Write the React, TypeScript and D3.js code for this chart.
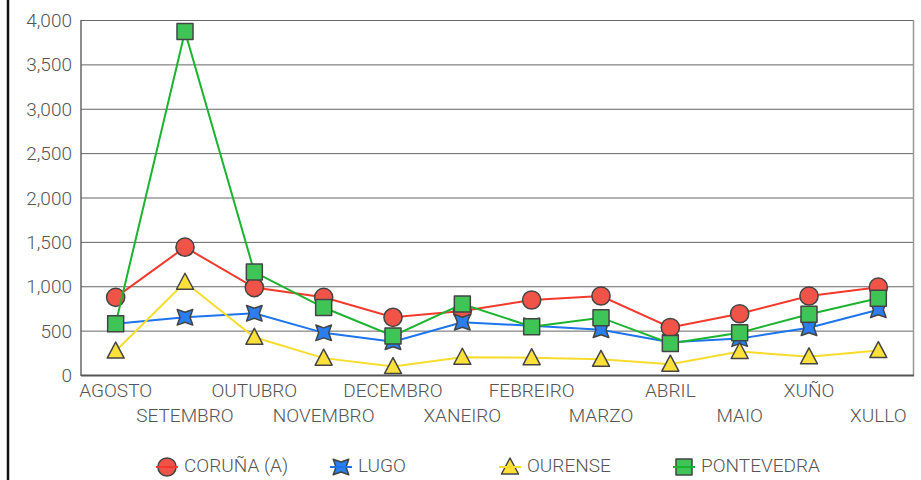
import { useEffect, useRef } from 'react';
import * as d3 from 'd3';

const MONTHS = ['AGOSTO', 'SETEMBRO', 'OUTUBRO', 'NOVEMBRO', 'DECEMBRO', 'XANEIRO', 'FEBREIRO', 'MARZO', 'ABRIL', 'MAIO', 'XUÑO', 'XULLO'];
const CORUNA = [875, 1440, 985, 875, 650, 720, 845, 890, 535, 690, 890, 990];
const LUGO = [578, 650, 695, 475, 375, 595, 555, 510, 368, 410, 533, 735];
const OURENSE = [270, 1045, 425, 190, 95, 200, 195, 177, 122, 265, 205, 275];
const PONTEVEDRA = [578, 3870, 1160, 760, 440, 800, 545, 646, 355, 477, 684, 865];
const Y_TICKS = [0, 500, 1000, 1500, 2000, 2500, 3000, 3500, 4000];

const SERIES = [
  { name: 'CORUÑA (A)', values: CORUNA, line: '#f2392c', fill: '#f05448', shape: 'circle' },
  { name: 'LUGO', values: LUGO, line: '#1c74ee', fill: '#2a7ef0', shape: 'star' },
  { name: 'OURENSE', values: OURENSE, line: '#f7dc2c', fill: '#fde03a', shape: 'triangle' },
  { name: 'PONTEVEDRA', values: PONTEVEDRA, line: '#1cb32f', fill: '#3fc456', shape: 'square' }
];
const LEGEND_X = [167, 341, 510, 684];

// marker outline centred on 0,0
function markerPath(shape: string) {
  if (shape === 'circle') return d3.symbol(d3.symbolCircle, 260)();
  if (shape === 'square') return 'M-8,-8H8V8H-8Z';
  if (shape === 'triangle') return 'M0,-9L8.5,7H-8.5Z';
  // four point star, points on the diagonals
  const p = d3.path();
  const r = 11, q = 5;
  for (let i = 0; i < 8; i++) {
    const a = Math.PI / 4 + (i * Math.PI) / 4;
    const rr = i % 2 === 0 ? r : q;
    const x = Math.cos(a) * rr, y = Math.sin(a) * rr;
    if (i === 0) p.moveTo(x, y); else p.lineTo(x, y);
  }
  p.closePath();
  return p.toString();
}

export default function App() {
  const ref = useRef<SVGSVGElement>(null);

  useEffect(() => {
    if (!ref.current) return;
    const svg = d3.select(ref.current);
    svg.selectAll('*').remove();

    const left = 81, right = 913, top = 20, bottom = 375;
    const font = 'Roboto, "Liberation Sans", sans-serif';

    const x = d3.scalePoint<string>().domain(MONTHS).range([left, right]).padding(0.5);
    const y = d3.scaleLinear().domain([0, 4000]).range([bottom, top]);

    svg.append('rect').attr('width', 921).attr('height', 480).attr('fill', '#fff');

    // outer left border
    svg.append('line')
      .attr('x1', 8).attr('x2', 8).attr('y1', 0).attr('y2', 480)
      .attr('stroke', '#111').attr('stroke-width', 2.5);

    // grid
    svg.selectAll('.grid')
      .data(Y_TICKS.slice(1))
      .enter()
      .append('line')
      .attr('x1', left).attr('x2', right)
      .attr('y1', d => y(d) + 0.5).attr('y2', d => y(d) + 0.5)
      .attr('stroke', '#666').attr('stroke-width', 1);

    svg.append('line')
      .attr('x1', right + 0.5).attr('x2', right + 0.5).attr('y1', top).attr('y2', bottom)
      .attr('stroke', '#999').attr('stroke-width', 1.5);
    svg.append('line')
      .attr('x1', left).attr('x2', left).attr('y1', top).attr('y2', bottom + 1)
      .attr('stroke', '#666').attr('stroke-width', 1.5);
    svg.append('line')
      .attr('x1', left).attr('x2', right + 1).attr('y1', bottom + 0.5).attr('y2', bottom + 0.5)
      .attr('stroke', '#555').attr('stroke-width', 2);

    // y labels
    svg.selectAll('.ylab')
      .data(Y_TICKS)
      .enter()
      .append('text')
      .attr('x', 72)
      .attr('y', d => y(d) + 7)
      .attr('text-anchor', 'end')
      .attr('fill', '#555')
      .style('font-family', font)
      .style('font-weight', 300)
      .style('font-size', '19px')
      .text(d => d3.format(',')(d));

    // x labels, staggered
    svg.selectAll('.xlab')
      .data(MONTHS)
      .enter()
      .append('text')
      .attr('x', d => x(d)!)
      .attr('y', (d, i) => (i % 2 === 0 ? 397 : 422))
      .attr('text-anchor', 'middle')
      .attr('fill', '#555')
      .style('font-family', font)
      .style('font-weight', 300)
      .style('font-size', '19px')
      .text(d => d);

    const line = d3.line<number>()
      .x((d, i) => x(MONTHS[i])!)
      .y(d => y(d));

    SERIES.forEach((s, si) => {
      const g = svg.append('g');
      g.append('path')
        .datum(s.values)
        .attr('fill', 'none')
        .attr('stroke', s.line)
        .attr('stroke-width', 2)
        .attr('d', line);

      g.selectAll('.m')
        .data(s.values)
        .enter()
        .append('path')
        .attr('transform', (d, i) => `translate(${x(MONTHS[i])},${y(d)})`)
        .attr('d', markerPath(s.shape))
        .attr('fill', s.fill)
        .attr('stroke', '#444')
        .attr('stroke-width', 1.5)
        .attr('stroke-linejoin', 'round');

      // legend
      const lx = LEGEND_X[si], ly = 467;
      const lg = svg.append('g');
      lg.append('path')
        .attr('transform', `translate(${lx},${ly})`)
        .attr('d', markerPath(s.shape))
        .attr('fill', s.fill)
        .attr('stroke', '#444')
        .attr('stroke-width', 1.5)
        .attr('stroke-linejoin', 'round');
      lg.append('line')
        .attr('x1', lx - 11).attr('x2', lx + 11).attr('y1', ly).attr('y2', ly)
        .attr('stroke', s.line).attr('stroke-width', 2);
      lg.append('text')
        .attr('x', lx + 17)
        .attr('y', ly + 5)
        .attr('fill', '#555')
        .style('font-family', font)
        .style('font-weight', 300)
        .style('font-size', '19px')
        .text(s.name);
    });
  }, []);

  return (
    <svg
      ref={ref}
      width={921}
      height={480}
      style={{ position: 'absolute', left: 0, top: 0 }}
    />
  );
}
